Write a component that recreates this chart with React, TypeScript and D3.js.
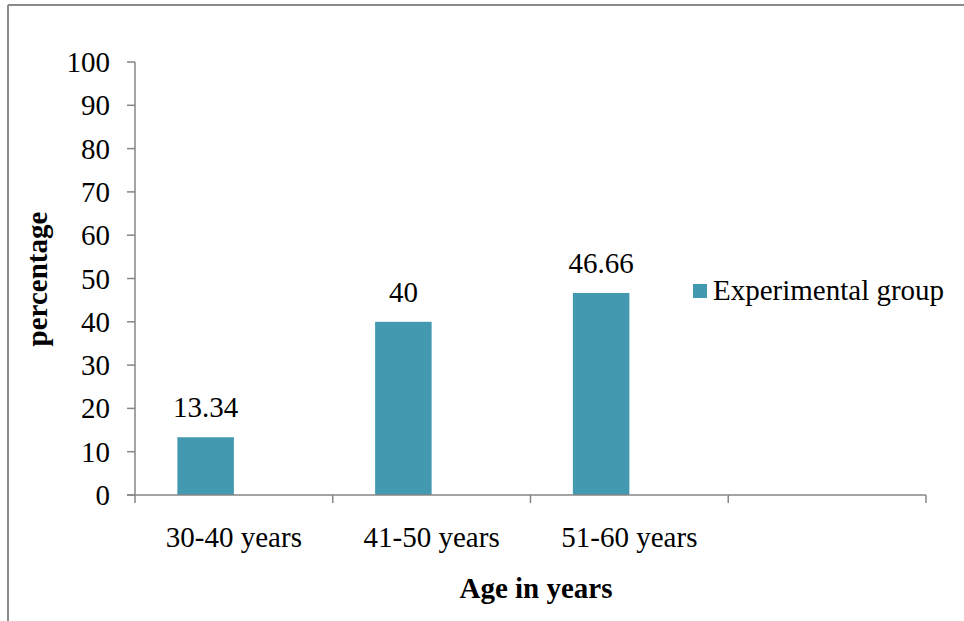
import React from "react";
import * as d3 from "d3";

const categories = ["30-40 years", "41-50 years", "51-60 years", ""];
const values: (number | null)[] = [13.34, 40, 46.66, null];
const valueLabels = ["13.34", "40", "46.66", ""];
const yTicks = [0, 10, 20, 30, 40, 50, 60, 70, 80, 90, 100];
const seriesName = "Experimental group";
// chart has a second (empty, unlabelled) series slot beside each bar
const seriesSlots = [seriesName, "empty"];

export default function App() {
  const W = 964, H = 621;
  const x0 = 135, x1 = 926, yTop = 62, yBot = 495;
  const x = d3.scaleBand<string>().domain(categories.map((_, i) => String(i))).range([x0, x1]).paddingInner(0).paddingOuter(0);
  const xs = d3.scaleBand<string>().domain(seriesSlots).range([0, x.bandwidth()]).paddingInner(0).paddingOuter(0.75);
  const y = d3.scaleLinear().domain([0, 100]).range([yBot, yTop]);
  const font = "'Liberation Serif', 'Times New Roman', serif";
  const fs = 29;
  const axisColor = "#868686";
  const color = "#4399AF";
  const edges = categories.map((_, i) => x(String(i))!).concat([x1]);
  return (
    <div style={{ position: "absolute", left: 0, top: 0 }}>
      <svg width={W} height={H} style={{ display: "block" }}>
        <rect x={0} y={0} width={W} height={H} fill="#fff" />
        <line x1={8} y1={5} x2={W} y2={5} stroke="#8a8a8a" strokeWidth={2} />
        <line x1={8} y1={5} x2={8} y2={H} stroke="#8a8a8a" strokeWidth={2} />
        {values.map((v, i) => {
          if (v == null) return null;
          const bx = x(String(i))! + xs(seriesName)!;
          const bw = xs.bandwidth();
          return (
            <g key={i}>
              <rect x={bx} y={y(v)} width={bw} height={yBot - y(v)} fill={color} />
              <text x={bx + bw / 2} y={y(v) - 20} textAnchor="middle" fontFamily={font} fontSize={fs} fill="#000">{valueLabels[i]}</text>
            </g>
          );
        })}
        <line x1={x0} y1={yTop} x2={x0} y2={yBot} stroke={axisColor} strokeWidth={1.5} />
        {yTicks.map(t => (
          <g key={t}>
            <line x1={x0 - 8} y1={y(t)} x2={x0} y2={y(t)} stroke={axisColor} strokeWidth={1.5} />
            <text x={x0 - 25} y={y(t) + 10} textAnchor="end" fontFamily={font} fontSize={fs} fill="#000">{t}</text>
          </g>
        ))}
        <line x1={x0 - 8} y1={yBot} x2={x1} y2={yBot} stroke={axisColor} strokeWidth={1.5} />
        {edges.map((e, i) => (
          <line key={i} x1={e} y1={yBot} x2={e} y2={yBot + 8} stroke={axisColor} strokeWidth={1.5} />
        ))}
        {categories.map((c, i) => (
          <text key={i} x={x(String(i))! + x.bandwidth() / 2} y={547} textAnchor="middle" fontFamily={font} fontSize={fs} fill="#000">{c}</text>
        ))}
        <text x={536} y={598} textAnchor="middle" fontFamily={font} fontSize={fs} fontWeight="bold" fill="#000">Age in years</text>
        <text transform={`translate(47,279) rotate(-90)`} textAnchor="middle" fontFamily={font} fontSize={fs} fontWeight="bold" fill="#000">percentage</text>
        <rect x={693} y={284} width={14} height={14} fill={color} />
        <text x={713} y={300} fontFamily={font} fontSize={fs} fill="#000">{seriesName}</text>
      </svg>
    </div>
  );
}
